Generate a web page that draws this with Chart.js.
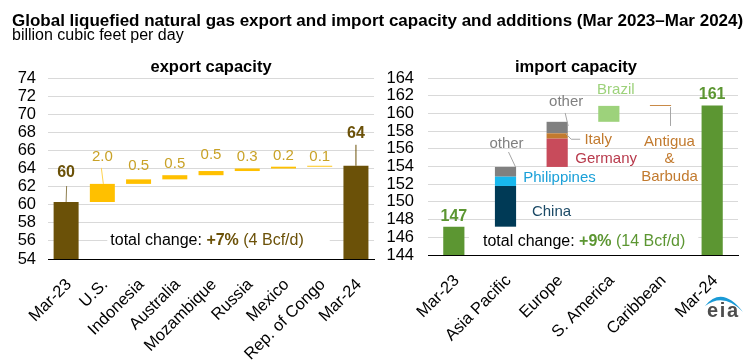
<!DOCTYPE html>
<html>
<head>
<meta charset="utf-8">
<script src="https://cdn.jsdelivr.net/npm/chart.js@4.4.1/dist/chart.umd.min.js"></script>
<style>
  body { margin: 0; background: #fff; font-family: 'Liberation Sans', Arial, sans-serif; }
  #wrap { position: relative; width: 756px; height: 361px; overflow: hidden; }
  #title { position: absolute; left: 12px; top: 12px; font-size: 17px; line-height: 17px; font-weight: bold; white-space: nowrap; }
  #sub { position: absolute; left: 12px; top: 27px; font-size: 16px; line-height: 16px; white-space: nowrap; }
  canvas { position: absolute; top: 0; }
  #exportChart { left: 0; }
  #importChart { left: 378px; }
  #logo { position: absolute; left: 700px; top: 284px; }
</style>
</head>
<body>
<div id="wrap">
  <canvas id="exportChart" width="378" height="361"></canvas>
  <canvas id="importChart" width="378" height="361"></canvas>
  <div id="title">Global liquefied natural gas export and import capacity and additions (Mar 2023–Mar 2024)</div>
  <div id="sub">billion cubic feet per day</div>
  <svg id="logo" width="50" height="40" viewBox="0 0 50 40">
    <path d="M5,22 Q22,1 43,28 Q24,8 5,22 Z" fill="#1a9ad6"/>
    <text x="7" y="33" font-family="Liberation Sans, Arial, sans-serif" font-size="20" font-weight="bold" fill="#4d4d4d" textLength="31">eia</text>
  </svg>
</div>
<script>
// export side (bcf/d)
const exportCats = ['Mar-23', 'U.S.', 'Indonesia', 'Australia', 'Mozambique', 'Russia', 'Mexico', 'Rep. of Congo', 'Mar-24'];
const exportStart = 60.3;
const exportEnd = 64.3;
const exportAdds = [2.0, 0.5, 0.46, 0.46, 0.28, 0.2, 0.1];
const exportAxis = [54, 74, 2];

// import side (bcf/d)
const importCats = ['Mar-23', 'Asia Pacific', 'Europe', 'S. America', 'Caribbean', 'Mar-24'];
const importStart = 147.2;
const importEnd = 160.9;
const importParts = ['China', 'Philippines', 'other', 'Germany', 'Italy', 'other', 'Brazil', 'Antigua & Barbuda'];
const importRegion = [1, 1, 1, 2, 2, 2, 3, 4];
const importAdds = [4.6, 1.05, 1.1, 3.2, 0.6, 1.3, 1.8, 0.1];
const importAxis = [144, 164, 2];

// colours
const FONT = "'Liberation Sans', Arial, sans-serif";
const BROWN = '#6b5108';
const GOLD = '#ffc000';
const GOLD_TXT = '#c9a227';
const GREEN = '#5c9632';
const partColors = ['#003a56', '#18b8ee', '#808080', '#c84b5b', '#c27a2e', '#808080', '#9dd27b', '#c27a2e'];

Chart.defaults.font.family = FONT;
Chart.defaults.color = '#000';

// cumulative tops for the waterfall
function cumulate(start, adds) {
  let run = start;
  return adds.map(a => { const from = run; run += a; return [from, run]; });
}
const exportRanges = cumulate(exportStart, exportAdds);
const importRanges = cumulate(importStart, importAdds);

function axes([min, max, step], yWidth, yPad, xHeight) {
  return {
    x: {
      grid: { display: false },
      border: { color: '#000', width: 1 },
      ticks: { font: { size: 16.5 }, color: '#000', minRotation: 45, maxRotation: 45, autoSkip: false, padding: 8, labelOffset: 3 },
      afterFit: s => { s.height = xHeight; }
    },
    y: {
      min: min, max: max,
      grid: { color: '#d9d9d9', drawTicks: false },
      border: { display: false },
      ticks: { stepSize: step, autoSkip: false, font: { size: 16.5 }, color: '#000', padding: yPad },
      afterFit: s => { s.width = yWidth; }
    }
  };
}

function drawRuns(ctx, runs, cx, cy, size, bg) {
  let total = 0;
  const widths = runs.map(r => {
    ctx.font = (r[2] ? 'bold ' : '') + size + 'px ' + FONT;
    const w = ctx.measureText(r[0]).width;
    total += w;
    return w;
  });
  let x = cx - total / 2;
  if (bg) {
    ctx.fillStyle = '#fff';
    ctx.fillRect(x - bg[0], cy - size * 0.65, total + bg[0] + bg[1], size * 1.3);
  }
  ctx.textAlign = 'left';
  ctx.textBaseline = 'middle';
  runs.forEach((r, i) => {
    ctx.font = (r[2] ? 'bold ' : '') + size + 'px ' + FONT;
    ctx.fillStyle = r[1];
    ctx.fillText(r[0], x, cy);
    x += widths[i];
  });
}

// notes: {at: [cat, dx, value, dy], runs, size, bg}; lines: {pts: [[cat, dx, value, dy], ...], color}
function notesPlugin(heading, notes, lines) {
  return {
    id: 'notes',
    afterDatasetsDraw(chart) {
      const { ctx, chartArea, scales: { x, y } } = chart;
      const px = p => [x.getPixelForValue(p[0]) + (p[1] || 0), y.getPixelForValue(p[2]) + (p[3] || 0)];
      ctx.save();
      lines.forEach(l => {
        ctx.strokeStyle = l.color;
        ctx.lineWidth = 1;
        ctx.beginPath();
        l.pts.forEach((p, i) => {
          const [X, Y] = px(p);
          if (i) ctx.lineTo(X, Y); else ctx.moveTo(X, Y);
        });
        ctx.stroke();
      });
      notes.forEach(n => {
        const [X, Y] = px(n.at);
        drawRuns(ctx, n.runs, X, Y, n.size || 15, n.bg);
      });
      drawRuns(ctx, [[heading[0], '#000', true]], (chartArea.left + chartArea.right) / 2 + heading[1], chartArea.top - 11, 16.5);
      ctx.restore();
    }
  };
}

// ---------- export chart ----------
const exportData = [exportStart].concat(exportRanges, [exportEnd]);
const exportTops = [exportStart].concat(exportRanges.map(r => r[1]), [exportEnd]);
const exportText = [String(Math.round(exportStart))].concat(exportAdds.map(a => a.toFixed(1)), [String(Math.round(exportEnd))]);
const exportLift = [29, 27, 14, 11, 16, 12, 11, 9, 32];
const exportNotes = exportText.map((t, i) => {
  const edge = i === 0 || i === exportText.length - 1;
  return { at: [i, 0, exportTops[i], -exportLift[i]], runs: [[t, edge ? BROWN : GOLD_TXT, edge]], size: edge ? 16 : 15 };
});
const expChange = exportEnd - exportStart;
exportNotes.push({
  at: [4, -4, 56, 0], bg: [3, 26], size: 16,
  runs: [['total change: ', '#000'], ['+' + Math.round(expChange / exportStart * 100) + '%', BROWN, true], [' (' + Math.round(expChange) + ' Bcf/d)', BROWN]]
});
const exportLines = [
  { pts: [[0, 0.5, exportStart, -16], [0, 0, exportStart, 0]], color: '#8f7f4f' },
  { pts: [[1, -1, exportTops[1], -16], [1, 1, exportTops[1], 0]], color: '#ffd24d' },
  { pts: [[8, 0, exportEnd, -21], [8, 0, exportEnd, 0]], color: '#6b5108' }
];

new Chart(document.getElementById('exportChart'), {
  type: 'bar',
  data: {
    labels: exportCats,
    datasets: [{
      data: exportData,
      backgroundColor: exportCats.map((_, i) => (i === 0 || i === exportCats.length - 1) ? BROWN : GOLD),
      categoryPercentage: 1,
      barPercentage: 0.69
    }]
  },
  options: {
    responsive: false,
    animation: false,
    layout: { padding: { top: 78, right: 1, left: 0, bottom: 0 } },
    plugins: { legend: { display: false }, tooltip: { enabled: false } },
    scales: axes(exportAxis, 48, 12, 102)
  },
  plugins: [notesPlugin(['export capacity', 0], exportNotes, exportLines)]
});

// ---------- import chart ----------
const importDatasets = importParts.map((name, k) => ({
  label: name,
  data: importCats.map((_, i) => i === importRegion[k] ? importRanges[k] : null),
  backgroundColor: partColors[k],
  grouped: false,
  categoryPercentage: 1,
  barPercentage: 0.41
}));
importDatasets.push({
  label: 'total',
  data: importCats.map((_, i) => i === 0 ? importStart : (i === importCats.length - 1 ? importEnd : null)),
  backgroundColor: GREEN,
  grouped: false,
  categoryPercentage: 1,
  barPercentage: 0.41
});

const impChange = importEnd - importStart;
const importNotes = [
  { at: [0, 0, importStart, -10], runs: [[String(Math.round(importStart)), GREEN, true]], size: 16 },
  { at: [5, 0, importEnd, -11], runs: [[String(Math.round(importEnd)), GREEN, true]], size: 16 },
  { at: [1, 46, 148.86], runs: [['China', '#1c4a66']] },
  { at: [1, 54, 152.7], runs: [['Philippines', '#1aa0d8']] },
  { at: [1, 1, 156.54], runs: [['other', '#808080']] },
  { at: [2, 9, 161.29], runs: [['other', '#808080']] },
  { at: [2, 41, 157.0], runs: [['Italy', '#c27a2e']] },
  { at: [2, 49, 154.85], runs: [['Germany', '#b83a4c']] },
  { at: [3, 7, 162.64], runs: [['Brazil', '#9dd27b']] },
  { at: [4, 9, 156.77], runs: [['Antigua', '#c27a2e']] },
  { at: [4, 9, 154.85], runs: [['&', '#c27a2e']] },
  { at: [4, 9, 152.81], runs: [['Barbuda', '#c27a2e']] },
  {
    at: [2, 27, 145.47], bg: [14, 13], size: 16,
    runs: [['total change: ', '#000'], ['+' + Math.round(impChange / importStart * 100) + '%', GREEN, true], [' (' + Math.round(impChange) + ' Bcf/d)', GREEN]]
  }
];
const importLines = [
  { pts: [[1, 3, 155.64], [1, 10, 153.95]], color: '#a6a6a6' },
  { pts: [[2, 8, 160.05], [2, 11, 158.58]], color: '#a6a6a6' },
  { pts: [[2, 9, 157.67], [2, 14, 157.08], [2, 23, 157.08]], color: '#a6a6a6' },
  { pts: [[4, 10, 160.72], [4, 10, 158.58]], color: '#a6a6a6' }
];

new Chart(document.getElementById('importChart'), {
  type: 'bar',
  data: { labels: importCats, datasets: importDatasets },
  options: {
    responsive: false,
    animation: false,
    layout: { padding: { top: 78, right: 18, left: 0, bottom: 0 } },
    plugins: { legend: { display: false }, tooltip: { enabled: false } },
    scales: axes(importAxis, 50, 14, 106)
  },
  plugins: [notesPlugin(['import capacity', -7], importNotes, importLines)]
});
</script>
</body>
</html>
